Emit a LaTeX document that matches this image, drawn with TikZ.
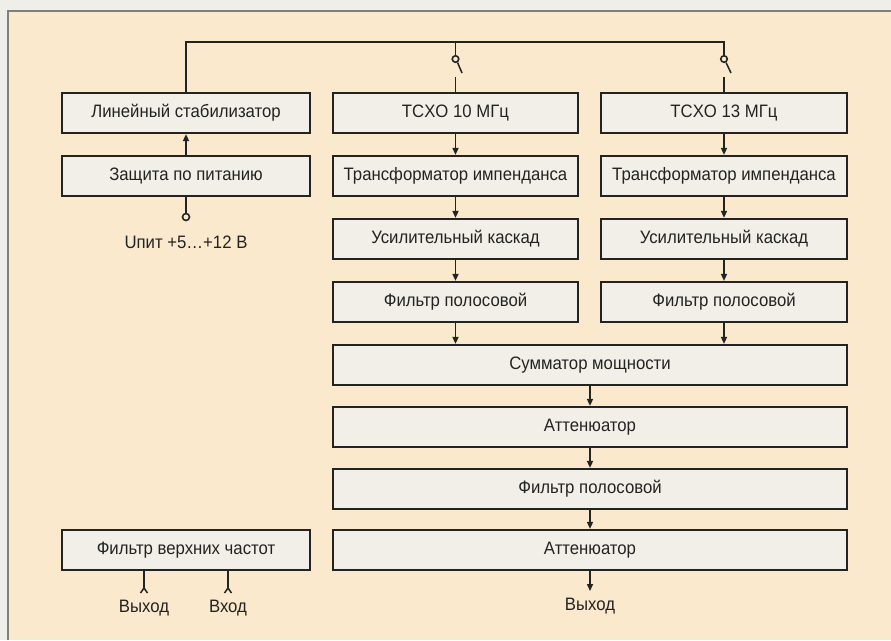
\documentclass[tikz,border=0pt]{standalone}
\usepackage{fontspec}
\setmainfont{Liberation Sans}[FakeStretch=0.93]
\usetikzlibrary{arrows.meta}
\definecolor{bgout}{RGB}{240,238,232}
\definecolor{bgin}{RGB}{250,233,204}
\definecolor{boxfill}{RGB}{241,239,231}
\definecolor{framegray}{RGB}{125,128,125}
\definecolor{ink}{RGB}{35,35,35}
\begin{document}
\begin{tikzpicture}[x=1pt,y=-1pt,
  blk/.style={draw=ink,line width=2.2pt,fill=boxfill,minimum height=40pt,inner sep=0pt,
              font=\fontsize{18}{21}\selectfont,text=ink},
  conn/.style={draw=ink,line width=1.5pt},
  arr/.style={conn,-{Triangle[length=7pt,width=6pt]}},
  lbl/.style={font=\fontsize{18}{21}\selectfont,text=ink,inner sep=0pt},
  pinc/.style={circle,draw=ink,line width=1.6pt,fill=bgin,inner sep=0pt,minimum size=7pt}]
\fill[bgout] (0,0) rectangle (891,640);
\useasboundingbox (0,0) rectangle (891,640);
\fill[bgin] (8,11) rectangle (891,640);
\draw[framegray,line width=2.5pt] (8,640) -- (8,11) -- (891,11);

% left column
\node[blk,minimum width=248pt] (lin) at (186,113) {Линейный стабилизатор};
\node[blk,minimum width=248pt] (prot) at (186,176) {Защита по питанию};
\node[blk,minimum width=248pt] (hpf) at (186,550) {Фильтр верхних частот};

% middle column
\node[blk,minimum width=245pt] (ts10) at (455.5,113) {TCXO 10 МГц};
\node[blk,minimum width=245pt] (tr1) at (455.5,176) {Трансформатор импенданса};
\node[blk,minimum width=245pt] (amp1) at (455.5,239) {Усилительный каскад};
\node[blk,minimum width=245pt] (bpf1) at (455.5,302) {Фильтр полосовой};

% right column
\node[blk,minimum width=246pt] (ts13) at (724,113) {TCXO 13 МГц};
\node[blk,minimum width=246pt] (tr2) at (724,176) {Трансформатор импенданса};
\node[blk,minimum width=246pt] (amp2) at (724,239) {Усилительный каскад};
\node[blk,minimum width=246pt] (bpf2) at (724,302) {Фильтр полосовой};

% wide blocks
\node[blk,minimum width=514pt] (sum) at (590,365) {Сумматор мощности};
\node[blk,minimum width=514pt] (att1) at (590,427) {Аттенюатор};
\node[blk,minimum width=514pt] (bpf3) at (590,489) {Фильтр полосовой};
\node[blk,minimum width=514pt] (att2) at (590,550) {Аттенюатор};

% power input
\node[pinc] (pin) at (186,217) {};
\node[lbl] (pinlbl) at (186,242) {Uпит +5…+12 В};
\draw[conn] (prot.south) -- (pin.north);
\draw[arr] (prot.north) -- (lin.south);

% supply bus and switches
\coordinate (bus1) at (186,42);
\coordinate (bus2) at (455.5,42);
\coordinate (bus3) at (724,42);
\node[pinc,minimum size=6.5pt] (sw1) at (455.5,59) {};
\node[pinc,minimum size=6.5pt] (sw2) at (724,59) {};
\coordinate (c1) at (455.5,77);
\coordinate (c2) at (724,77);
\draw[conn] (lin.north) -- (bus1) -- (bus3) -- (sw2.north);
\draw[conn] (bus2) -- (sw1.north);
\draw[conn] (sw1.-60) -- (462,73);
\draw[conn] (sw2.-60) -- (731,73);
\draw[conn] (c1) -- (ts10.north);
\draw[conn] (c2) -- (ts13.north);

% signal chains
\draw[arr] (ts10) -- (tr1);
\draw[arr] (tr1) -- (amp1);
\draw[arr] (amp1) -- (bpf1);
\draw[arr] (bpf1.south) -- (bpf1.south |- sum.north);
\draw[arr] (ts13) -- (tr2);
\draw[arr] (tr2) -- (amp2);
\draw[arr] (amp2) -- (bpf2);
\draw[arr] (bpf2.south) -- (bpf2.south |- sum.north);
\draw[arr] (sum) -- (att1);
\draw[arr] (att1) -- (bpf3);
\draw[arr] (bpf3) -- (att2);
\coordinate (outend) at (590,591);
\draw[arr] (att2.south) -- (outend);
\node[lbl] (outlbl) at (590,606) {Выход};

% HPF connectors
\coordinate (o1) at (144,588);
\coordinate (i1) at (228,588);
\draw[conn] (o1 |- hpf.south) -- (o1);
\draw[conn] (i1 |- hpf.south) -- (i1);
\draw[conn] (o1) ++(-3.5,5) -- (o1) -- ++(3.5,5);
\draw[conn] (i1) ++(-3.5,5) -- (i1) -- ++(3.5,5);
\node[lbl] (o1lbl) at (144,608) {Выход};
\node[lbl] (i1lbl) at (228,608) {Вход};
\end{tikzpicture}
\end{document}
